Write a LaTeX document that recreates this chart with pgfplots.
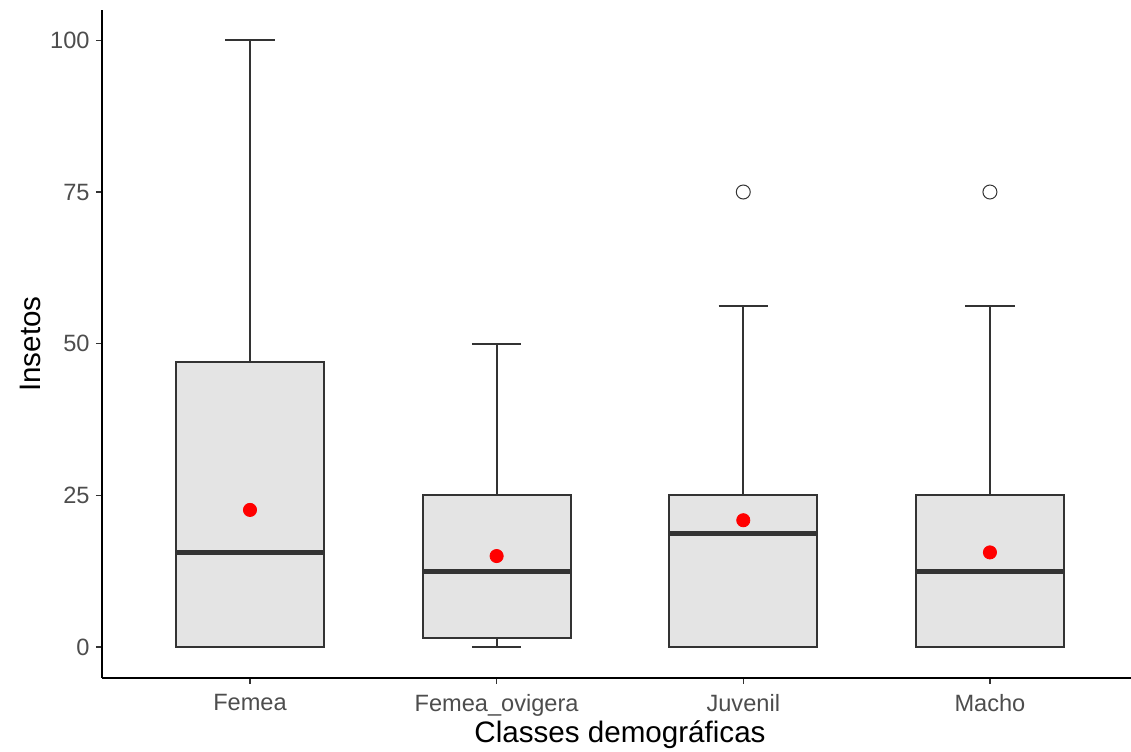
\documentclass[border=0pt]{standalone}
\usepackage{pgfplots}
\pgfplotsset{compat=1.18}
\usepgfplotslibrary{statistics}
\usepackage{fontspec}
\setmainfont{Liberation Sans}
\definecolor{boxfill}{HTML}{E4E4E4}
\definecolor{boxline}{HTML}{333333}
\definecolor{ticklab}{HTML}{4D4D4D}
\begin{document}
\begin{tikzpicture}
\begin{axis}[
  name=ax,
  scale only axis,
  width=514.5pt, height=334pt,
  xmin=0.4, xmax=4.572, ymin=-5.1, ymax=105,
  axis lines=left,
  axis line style={-, line width=1.1pt, black},
  xtick={1,2,3,4},
  xticklabels={Femea,Femea\_ovigera,Juvenil,Macho},
  ytick={0,25,50,75,100},
  tick align=outside,
  major tick length=3pt,
  tick style={boxline, line width=0.6pt},
  /pgf/number format/assume math mode=true,
  tick label style={font=\fontsize{11.8}{13}\selectfont, text=ticklab},
  xticklabel style={anchor=north, inner sep=0pt, yshift=-5pt},
  yticklabel style={anchor=east, inner sep=0pt, xshift=-3pt},
  xlabel={Classes demográficas},
  ylabel={Insetos},
  every axis x label/.style={font=\fontsize{14.8}{17}\selectfont, at={(axis description cs:0.5034,0)}, anchor=center, yshift=-28.5pt},
  every axis y label/.style={font=\fontsize{14.8}{17}\selectfont, at={(axis description cs:0,0.5)}, xshift=-36pt, anchor=center, rotate=90},
  boxplot/draw direction=y,
  boxplot/box extend=0.6,
  boxplot/whisker extend=0.2,
  boxplot/every box/.style={draw=boxline, fill=boxfill, line width=1pt},
  boxplot/every whisker/.style={draw=boxline, line width=1pt},
  boxplot/every median/.style={draw=boxline, line width=2.3pt},
  clip=false,
]
\addplot[boxplot prepared={draw position=1, lower whisker=0, lower quartile=0, median=15.6, upper quartile=46.9, upper whisker=100}, mark=*, mark options={draw=boxline, fill=white, line width=0.5pt}, mark size=3.5pt] coordinates {};
\addplot[boxplot prepared={draw position=2, lower whisker=0, lower quartile=1.56, median=12.5, upper quartile=25, upper whisker=50}, mark=*, mark options={draw=boxline, fill=white, line width=0.5pt}, mark size=3.5pt] coordinates {};
\addplot[boxplot prepared={draw position=3, lower whisker=0, lower quartile=0, median=18.75, upper quartile=25, upper whisker=56.25}, mark=*, mark options={draw=boxline, fill=white, line width=0.5pt}, mark size=3.5pt] coordinates {(3,75)};
\addplot[boxplot prepared={draw position=4, lower whisker=0, lower quartile=0, median=12.5, upper quartile=25, upper whisker=56.25}, mark=*, mark options={draw=boxline, fill=white, line width=0.5pt}, mark size=3.5pt] coordinates {(4,75)};
\addplot[only marks, mark=*, mark size=3.3pt, color=red, fill=red] coordinates {(1,22.6) (2,15.0) (3,20.9) (4,15.6)};
\coordinate (sw) at (rel axis cs:0,0);
\coordinate (ne) at (rel axis cs:1,1);
\end{axis}
\pgfresetboundingbox
\path ([shift={(-51pt,-37pt)}]sw) rectangle ([shift={(0pt,5pt)}]ne);
\end{tikzpicture}
\end{document}
